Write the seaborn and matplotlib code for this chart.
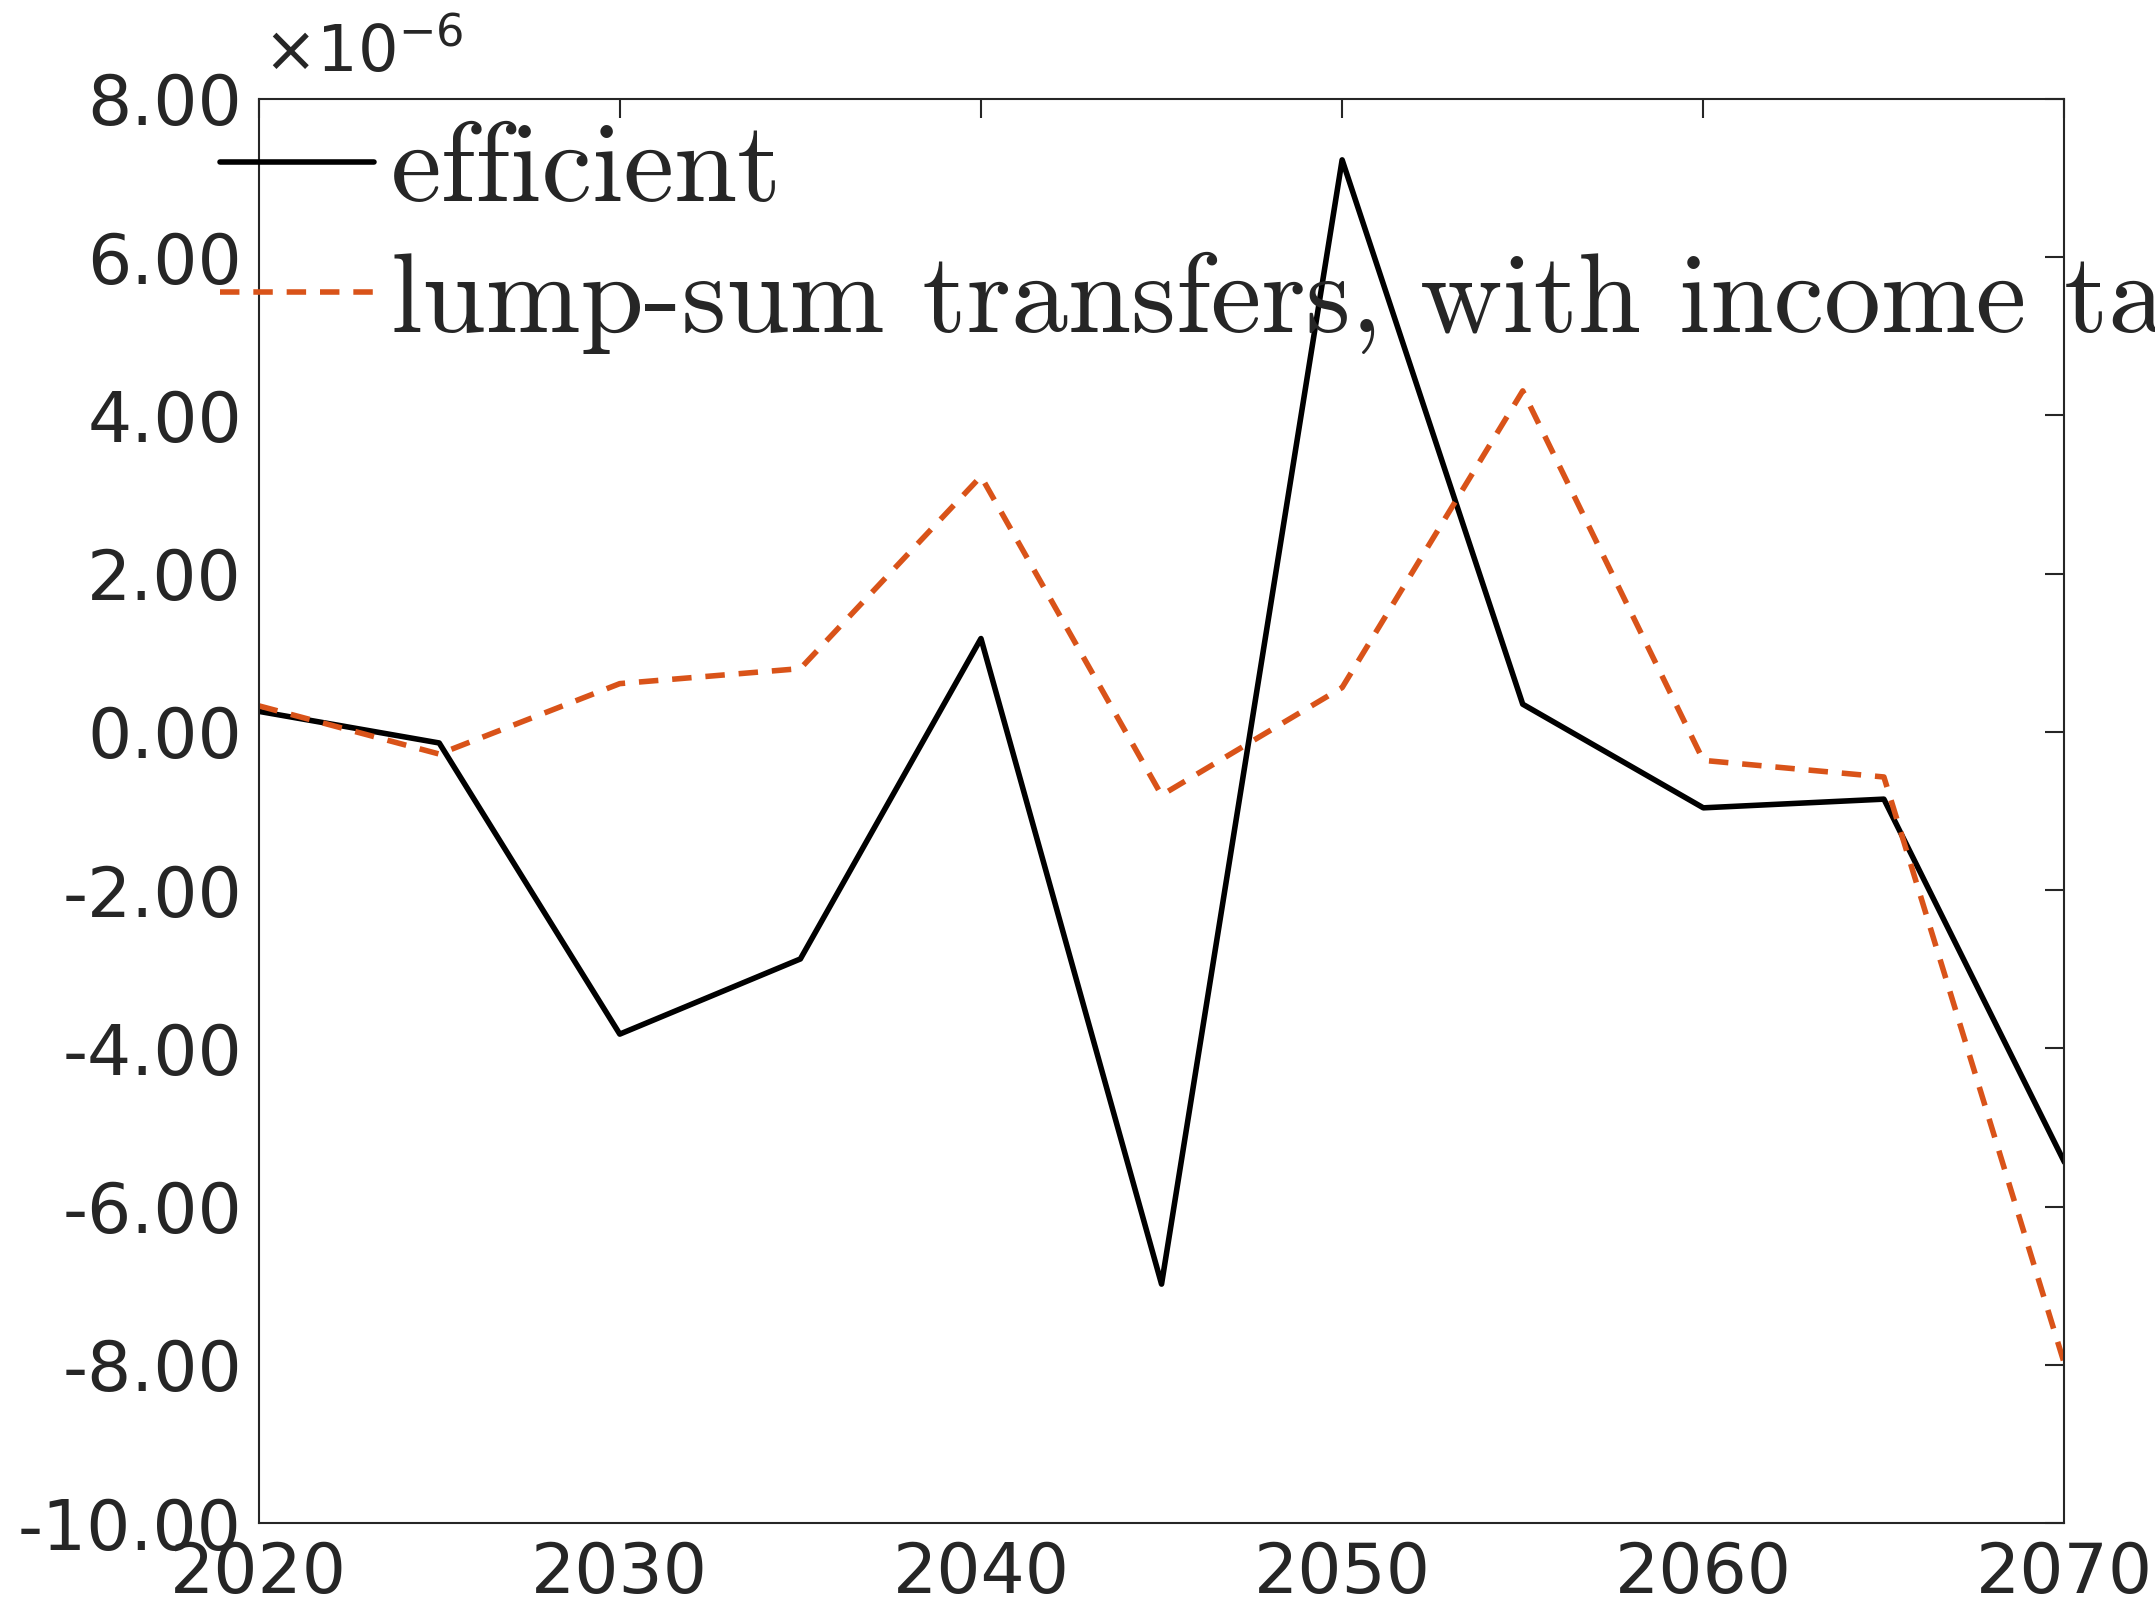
import numpy as np
import pandas as pd
import matplotlib
matplotlib.use("Agg")
import matplotlib.pyplot as plt
import seaborn as sns

years = [2020, 2025, 2030, 2035, 2040, 2045, 2050, 2055, 2060, 2065, 2070]
# values in units of 1e-6
efficient = [0.26, -0.14, -3.82, -2.87, 1.18, -6.98, 7.23, 0.35, -0.96, -0.85, -5.44]
lump_sum = [0.33, -0.28, 0.61, 0.80, 3.23, -0.80, 0.56, 4.31, -0.36, -0.57, -7.99]

sns.set_style("white")
plt.rcParams['font.family'] = ['DejaVu Sans']

fig = plt.figure(figsize=(21.55, 16.22), dpi=100)
ax = fig.add_axes([0.12, 0.061, 0.838, 0.878])

df = pd.DataFrame({'year': years, 'efficient': efficient, 'lump': lump_sum})
sns.lineplot(data=df, x='year', y='efficient', ax=ax, color='black', lw=4,
             label='efficient')
sns.lineplot(data=df, x='year', y='lump', ax=ax, color='#D95319', lw=4,
             linestyle=(0, (3.5, 2.5)), label='lump-sum transfers, with income tax')

ax.set_xlim(2020, 2070)
ax.set_ylim(-10, 8)
ax.set_xticks(range(2020, 2071, 10))
ax.set_yticks(range(-10, 9, 2))
ax.set_yticklabels([f"{v:.2f}" for v in range(-10, 9, 2)])
ax.set_xlabel('')
ax.set_ylabel('')
ax.tick_params(direction='in', length=14, width=1.5, top=True, right=True,
               labelsize=50, labelcolor='#262626', color='#262626', pad=12)
for s in ax.spines.values():
    s.set_color('#262626')
    s.set_linewidth(1.5)

fig.text(0.122, 0.948, r'$\times$10$^{\mathregular{-6}}$', fontsize=46, color='#262626',
         va='bottom', ha='left')

leg = ax.legend(loc='upper left', bbox_to_anchor=(0.102, 0.925),
                bbox_transform=fig.transFigure, frameon=False,
                prop={'family': 'cmr10', 'size': 82}, handlelength=1.35,
                handletextpad=0.15, borderpad=0, borderaxespad=0, labelspacing=0.25)

fig.savefig('out.png', dpi=100)
